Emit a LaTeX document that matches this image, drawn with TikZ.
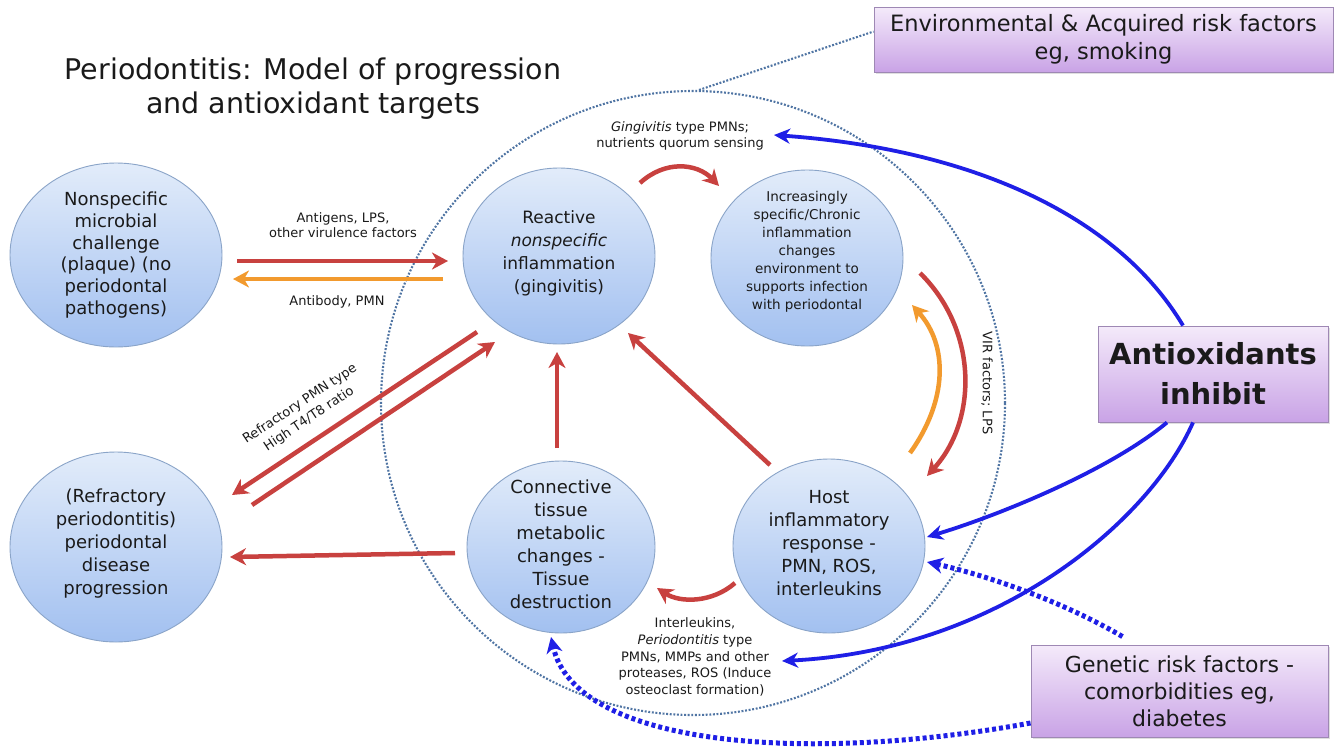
\documentclass[tikz,border=0pt]{standalone}
\usepackage{fontspec}
\setmainfont{DejaVu Sans}
\usetikzlibrary{shapes.geometric,arrows.meta,shadows}
\definecolor{circTop}{HTML}{E2ECFA}
\definecolor{circBot}{HTML}{A2C0F0}
\definecolor{circBorder}{HTML}{8AA4C8}
\definecolor{boxTop}{HTML}{F4EAFA}
\definecolor{boxBot}{HTML}{C9A3E6}
\definecolor{boxBorder}{HTML}{9E88B4}
\definecolor{redA}{HTML}{C8413F}
\definecolor{orangeA}{HTML}{F29A2E}
\definecolor{blueA}{HTML}{1F1FE6}
\definecolor{dotC}{HTML}{4F74A3}
\definecolor{txt}{HTML}{1A1A1A}
\begin{document}
\begin{tikzpicture}[x=1pt,y=-1pt,
  bubble/.style={ellipse, draw=circBorder, line width=0.9pt, top color=circTop, bottom color=circBot, inner sep=0pt},
  btext/.style={align=center, text=txt, font=\fontsize{18}{23}\selectfont, inner sep=0pt},
  lbl/.style={align=center, text=txt, font=\fontsize{13}{16.5}\selectfont, inner sep=0pt},
  pbox/.style={rectangle, draw=boxBorder, line width=0.9pt, top color=boxTop, bottom color=boxBot, align=center, text=txt, inner sep=0pt, drop shadow={shadow xshift=1.5pt, shadow yshift=-1.5pt, opacity=0.25}},
  redarr/.style={draw=redA, line width=4.5pt, -{Stealth[length=16pt,width=17pt,inset=5pt]}},
  orarr/.style={draw=orangeA, line width=4.5pt, -{Stealth[length=16pt,width=17pt,inset=5pt]}},
  bluarr/.style={draw=blueA, line width=3.8pt, -{Stealth[length=16pt,width=15pt,inset=5pt]}},
  bludot/.style={draw=blueA, line width=5pt, dash pattern=on 4pt off 3pt, -{Stealth[length=16pt,width=16pt,inset=5pt]}},
  ringdot/.style={draw=dotC, line width=2.1pt, dash pattern=on 1.9pt off 1.7pt}
]
\useasboundingbox[fill=white] (0,0) rectangle (1334,747);

% title
\node[align=center, text=txt, font=\fontsize{28.5}{34}\selectfont, inner sep=0pt] (title) at (313,89)
  {Periodontitis: Model of progression\\and antioxidant targets};

% ring
\node[circle, ringdot, minimum size=624pt, inner sep=0pt] (ring) at (693,403) {};

% bubbles
\node[bubble, minimum width=212pt, minimum height=184pt] (A) at (116,255) {};
\node[bubble, minimum width=192pt, minimum height=176pt] (B) at (559,256) {};
\node[bubble, minimum width=192pt, minimum height=176pt] (C) at (807,258) {};
\node[bubble, minimum width=192pt, minimum height=174pt] (D) at (829,546) {};
\node[bubble, minimum width=188pt, minimum height=172pt] (E) at (561,547) {};
\node[bubble, minimum width=212pt, minimum height=190pt] (F) at (116,547) {};

\node[btext, font=\fontsize{18}{21.7}\selectfont] (At) at (A) {Nonspecific\\microbial\\challenge\\(plaque) (no\\periodontal\\pathogens)};
\node[btext, font=\fontsize{17}{23}\selectfont] (Bt) at (559,253) {Reactive\\\textit{nonspecific}\\inflammation\\(gingivitis)};
\node[btext, font=\fontsize{13.5}{18}\selectfont] (Ct) at (807,252) {Increasingly\\specific/Chronic\\inflammation\\changes\\environment to\\supports infection\\with periodontal};
\node[btext] (Dt) at (829,543) {Host\\inflammatory\\response -\\PMN, ROS,\\interleukins};
\node[btext] (Et) at (561,544) {Connective\\tissue\\metabolic\\changes -\\Tissue\\destruction};
\node[btext] (Ft) at (116,544) {(Refractory\\periodontitis)\\periodontal\\disease\\progression};

% labels
\node[lbl, font=\fontsize{13}{15.5}\selectfont] (l1) at (343,225) {Antigens, LPS,\\other virulence factors};
\node[lbl] (l2) at (337,302) {Antibody, PMN};
\node[lbl, font=\fontsize{13}{15.5}\selectfont] (l3) at (680,136) {\textit{Gingivitis} type PMNs;\\nutrients quorum sensing};
\node[lbl, rotate=-90] (l4) at (987,383) {VIR factors; LPS};
\node[lbl, rotate=33.6] (l5a) at (300,404) {Refractory PMN type};
\node[lbl, rotate=33.6] (l5b) at (309,419) {High T4/T8 ratio};
\node[lbl, font=\fontsize{13}{16.7}\selectfont] (l6) at (695,657) {Interleukins,\\\textit{Periodontitis} type\\PMNs, MMPs and other\\proteases, ROS (Induce\\osteoclast formation)};

% boxes
\node[pbox, minimum width=459pt, minimum height=65pt, font=\fontsize{22.5}{28}\selectfont] (env) at (1103.5,39.5) {Environmental \& Acquired risk factors\\eg, smoking};
\node[pbox, minimum width=230pt, minimum height=96pt, font=\fontsize{29}{40}\selectfont\bfseries] (anti) at (1213,374) {Antioxidants\\inhibit};
\node[pbox, minimum width=297pt, minimum height=92pt, font=\fontsize{22}{27}\selectfont] (gen) at (1179.5,691) {Genetic risk factors -\\comorbidities eg,\\diabetes};

% dotted line ring to env
\draw[ringdot] ([xshift=6pt]ring.north) -- ([yshift=8pt]env.west);

% coordinates for free ends
\coordinate (ab1) at (237,261); \coordinate (ab2) at (448,261);
\coordinate (ba1) at (443,279); \coordinate (ba2) at (233,279);
\coordinate (bc1) at (640,183); \coordinate (bc2) at (719,186);
\coordinate (cd1) at (920,273); \coordinate (cd2) at (927,476);
\coordinate (dc1) at (910,453); \coordinate (dc2) at (912,305);
\coordinate (db1) at (770,465); \coordinate (db2) at (628,333);
\coordinate (eb1) at (557,448); \coordinate (eb2) at (557,352);
\coordinate (bf1) at (477,332); \coordinate (bf2) at (232,495);
\coordinate (fb1) at (252,505); \coordinate (fb2) at (495,342);
\coordinate (ef1) at (455,553); \coordinate (ef2) at (230,557);
\coordinate (de1) at (735,583); \coordinate (de2) at (657,588);
\coordinate (x1) at (774,135);
\coordinate (x2) at (927,537);
\coordinate (x3) at (782,661);
\coordinate (x4) at (927,562);
\coordinate (x5) at (551,637);

% red / orange arrows
\draw[redarr] (ab1) -- (ab2);
\draw[orarr] (ba1) -- (ba2);
\draw[redarr] (bc1) .. controls (665,160) and (697,163) .. (bc2);
\draw[redarr] (cd1) .. controls (978,330) and (978,420) .. (cd2);
\draw[orarr] (dc1) .. controls (948,400) and (948,345) .. (dc2);
\draw[redarr] (db1) -- (db2);
\draw[redarr] (eb1) -- (eb2);
\draw[redarr] (bf1) -- (bf2);
\draw[redarr] (fb1) -- (fb2);
\draw[redarr] (ef1) -- (ef2);
\draw[redarr] (de1) .. controls (712,603) and (680,603) .. (de2);

% blue arrows
\draw[bluarr] ([xshift=-30pt]anti.north) .. controls (1120,220) and (980,150) .. (x1);
\draw[bluarr] ([xshift=-46pt]anti.south) .. controls (1110,470) and (1000,515) .. (x2);
\draw[bluarr] ([xshift=-20pt]anti.south) .. controls (1150,520) and (1000,650) .. (x3);
\draw[bludot] ([xshift=-57pt,yshift=8pt]gen.north) .. controls (1060,600) and (985,575) .. (x4);
\draw[bludot] ([yshift=-32pt]gen.west) .. controls (800,765) and (575,745) .. (x5);
\end{tikzpicture}
\end{document}
